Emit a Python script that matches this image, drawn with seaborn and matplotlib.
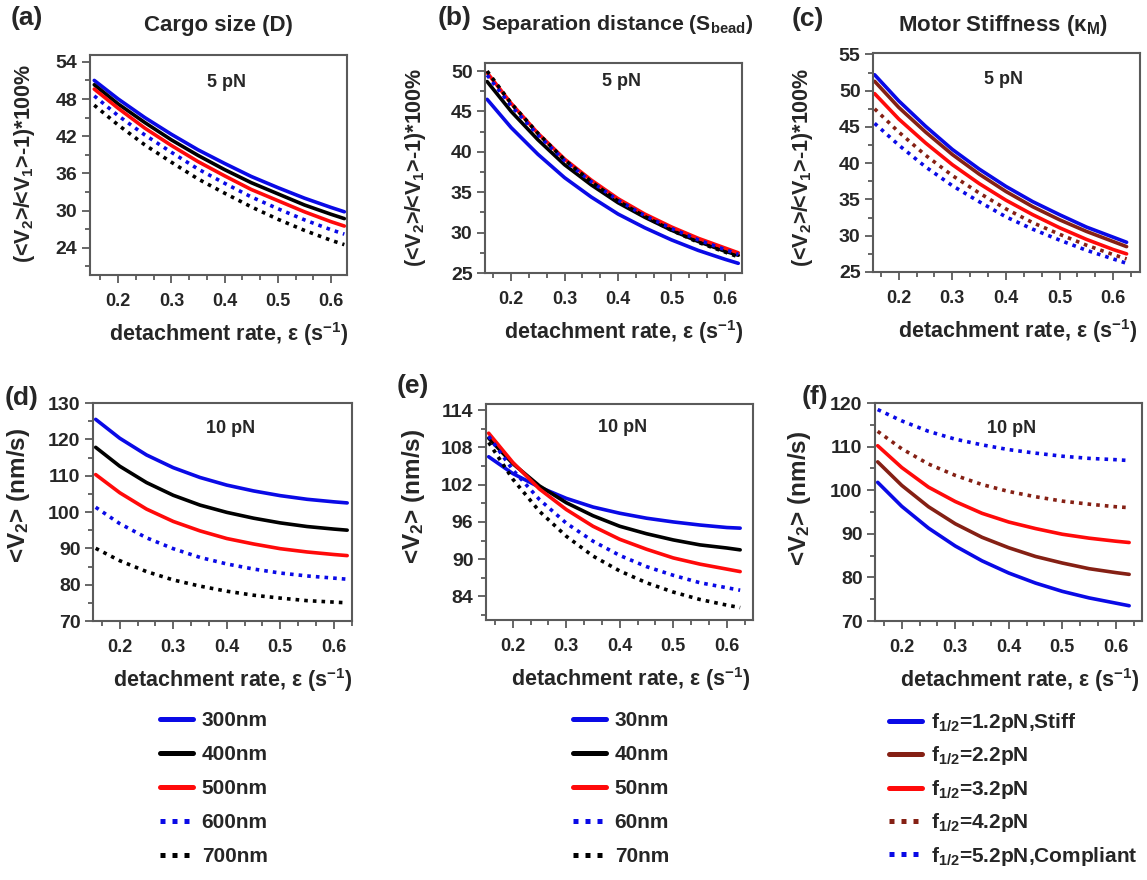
import matplotlib
matplotlib.use('Agg')
import matplotlib.pyplot as plt
from matplotlib.ticker import AutoMinorLocator, MultipleLocator
import seaborn as sns

# detachment rate (s^-1) sampled along each curve
eps = [0.155, 0.2, 0.25, 0.3, 0.35, 0.4, 0.45, 0.5, 0.55, 0.6, 0.625]

# (a) cargo size, 5 pN  -> (<V2>/<V1>-1)*100%
a_300 = [51.0, 48.0, 45.0, 42.3, 39.8, 37.6, 35.5, 33.7, 32.0, 30.5, 29.8]
a_400 = [50.3, 47.2, 44.2, 41.4, 38.9, 36.6, 34.5, 32.7, 30.9, 29.4, 28.7]
a_500 = [49.6, 46.5, 43.3, 40.5, 37.9, 35.6, 33.4, 31.6, 29.8, 28.2, 27.5]
a_600 = [48.5, 45.3, 42.2, 39.4, 36.7, 34.4, 32.2, 30.3, 28.5, 26.9, 26.2]
a_700 = [47.0, 43.8, 40.6, 37.8, 35.1, 32.8, 30.6, 28.6, 26.8, 25.2, 24.5]

# (b) separation distance, 5 pN
b_30 = [46.5, 43.0, 39.7, 36.8, 34.4, 32.3, 30.6, 29.1, 27.8, 26.7, 26.2]
b_40 = [48.7, 45.0, 41.5, 38.4, 35.9, 33.7, 31.9, 30.3, 28.9, 27.7, 27.2]
b_50 = [49.8, 46.0, 42.3, 39.1, 36.5, 34.2, 32.3, 30.7, 29.3, 28.1, 27.5]
b_60 = [49.5, 45.7, 42.1, 38.9, 36.3, 34.0, 32.1, 30.5, 29.1, 27.9, 27.3]
b_70 = [50.0, 46.0, 42.3, 39.0, 36.3, 33.9, 32.0, 30.3, 28.8, 27.6, 27.0]

# (c) motor stiffness, 5 pN
c_12 = [52.2, 48.6, 45.1, 41.9, 39.2, 36.8, 34.7, 32.9, 31.2, 29.8, 29.1]
c_22 = [51.3, 47.7, 44.3, 41.2, 38.5, 36.1, 34.0, 32.2, 30.6, 29.2, 28.5]
c_32 = [49.6, 46.1, 42.8, 39.8, 37.2, 34.9, 32.9, 31.1, 29.5, 28.1, 27.5]
c_42 = [47.5, 44.3, 41.1, 38.3, 35.9, 33.7, 31.8, 30.2, 28.7, 27.4, 26.8]
c_52 = [45.5, 42.5, 39.5, 36.9, 34.7, 32.6, 30.9, 29.4, 28.0, 26.8, 26.2]

# (d) cargo size, 10 pN -> <V2> (nm/s)
d_300 = [125.5, 120.3, 115.7, 112.2, 109.5, 107.4, 105.8, 104.5, 103.5, 102.8, 102.5]
d_400 = [117.8, 112.6, 108.1, 104.6, 101.9, 99.9, 98.3, 97.0, 96.0, 95.3, 95.0]
d_500 = [110.3, 105.3, 100.8, 97.4, 94.8, 92.7, 91.2, 89.9, 89.0, 88.3, 88.0]
d_600 = [101.3, 96.8, 92.9, 89.9, 87.5, 85.7, 84.3, 83.2, 82.4, 81.8, 81.5]
d_700 = [90.0, 86.6, 83.6, 81.3, 79.6, 78.2, 77.1, 76.3, 75.6, 75.2, 75.0]

# (e) separation distance, 10 pN
e_30 = [106.5, 103.8, 101.6, 99.8, 98.4, 97.4, 96.6, 96.0, 95.5, 95.1, 95.0]
e_40 = [109.5, 105.4, 101.8, 99.1, 97.0, 95.3, 94.1, 93.1, 92.3, 91.8, 91.5]
e_50 = [110.3, 105.6, 101.3, 98.0, 95.3, 93.2, 91.6, 90.2, 89.2, 88.4, 88.0]
e_60 = [109.8, 104.4, 99.6, 95.8, 92.9, 90.6, 88.8, 87.4, 86.2, 85.4, 85.0]
e_70 = [108.8, 102.9, 97.7, 93.7, 90.5, 88.1, 86.2, 84.7, 83.5, 82.6, 82.2]

# (f) motor stiffness, 10 pN
f_12 = [101.8, 96.3, 91.3, 87.2, 83.8, 81.0, 78.7, 76.8, 75.3, 74.1, 73.5]
f_22 = [106.5, 101.1, 96.2, 92.3, 89.2, 86.8, 84.8, 83.3, 82.0, 81.1, 80.7]
f_32 = [110.2, 105.2, 100.7, 97.4, 94.7, 92.7, 91.2, 89.9, 89.0, 88.3, 88.0]
f_42 = [113.5, 109.5, 106.0, 103.4, 101.3, 99.7, 98.5, 97.5, 96.8, 96.2, 96.0]
f_52 = [118.5, 115.9, 113.5, 111.7, 110.4, 109.3, 108.5, 107.8, 107.3, 107.0, 106.8]

cargo_labels = ['300nm', '400nm', '500nm', '600nm', '700nm']
sep_labels = ['30nm', '40nm', '50nm', '60nm', '70nm']
stiff_labels = ['f$_{1/2}$=1.2pN,Stiff', 'f$_{1/2}$=2.2pN', 'f$_{1/2}$=3.2pN',
                'f$_{1/2}$=4.2pN', 'f$_{1/2}$=5.2pN,Compliant']

BLUE, BLACK, RED, BROWN = '#0a0ae6', '#000000', '#ff0a0a', '#852014'
DOT = (0, (1, 1.4))
size_styles = [(BLUE, '-'), (BLACK, '-'), (RED, '-'), (BLUE, DOT), (BLACK, DOT)]
stiff_styles = [(BLUE, '-'), (BROWN, '-'), (RED, '-'), (BROWN, DOT), (BLUE, DOT)]

sns.set_style('ticks')
plt.rcParams['font.family'] = ['Liberation Sans', 'DejaVu Sans']
plt.rcParams['font.weight'] = 'bold'
plt.rcParams['axes.labelweight'] = 'bold'
plt.rcParams['mathtext.fontset'] = 'custom'
plt.rcParams['mathtext.rm'] = 'Liberation Sans:bold'
plt.rcParams['mathtext.it'] = 'Liberation Sans:bold'
plt.rcParams['mathtext.bf'] = 'Liberation Sans:bold'
plt.rcParams['mathtext.sf'] = 'Liberation Sans:bold'
plt.rcParams['mathtext.default'] = 'rm'

fig = plt.figure(figsize=(11.47, 8.8), dpi=100)

W, H = 1147, 880


def px_axes(left, top, right, bottom):
    return fig.add_axes([left / W, 1 - bottom / H, (right - left) / W, (bottom - top) / H])


panels = [
    # rect (px), series, labels, styles, xlim, ylim, ystep, force, its pos, row, ylabel pos
    ((90, 55, 347, 275), [a_300, a_400, a_500, a_600, a_700], cargo_labels, size_styles,
     (0.147, 0.630), (19.6, 55.1), 6, '5 pN', (0.53, 0.875), 'top', (-0.205, 0.51)),
    ((485, 63, 742, 273), [b_30, b_40, b_50, b_60, b_70], sep_labels, size_styles,
     (0.151, 0.632), (25, 51), 5, '5 pN', (0.53, 0.91), 'top', (-0.222, 0.505)),
    ((873, 53, 1140, 272), [c_12, c_22, c_32, c_42, c_52], stiff_labels, stiff_styles,
     (0.152, 0.650), (25, 55.2), 5, '5 pN', (0.49, 0.877), 'top', (-0.217, 0.48)),
    ((93, 403, 352, 621), [d_300, d_400, d_500, d_600, d_700], cargo_labels, size_styles,
     (0.150, 0.634), (70, 130), 10, '10 pN', (0.53, 0.885), 'bottom', (-0.236, 0.575)),
    ((486, 404, 753, 620), [e_30, e_40, e_50, e_60, e_70], sep_labels, size_styles,
     (0.150, 0.649), (80.2, 115), 6, '10 pN', (0.51, 0.89), 'bottom', (-0.221, 0.57)),
    ((875, 403, 1142, 621), [f_12, f_22, f_32, f_42, f_52], stiff_labels, stiff_styles,
     (0.150, 0.649), (70, 120), 10, '10 pN', (0.51, 0.885), 'bottom', (-0.232, 0.56)),
]

top_ylabel = '(<V$_2$>/<V$_1$>-1)*100%'
bottom_ylabel = '<V$_2$> (nm/s)'
frame_col = '#5a5a5a'

axes = []
for rect, series, labels, styles, xlim, ylim, ystep, force, fpos, row, ylpos in panels:
    ax = px_axes(*rect)
    for vals, lab, (col, ls) in zip(series, labels, styles):
        sns.lineplot(x=eps, y=vals, ax=ax, color=col, linestyle=ls,
                     linewidth=2.6, label=lab)
    ax.set_xlim(*xlim)
    ax.set_ylim(*ylim)
    ax.xaxis.set_major_locator(MultipleLocator(0.1))
    ax.xaxis.set_minor_locator(AutoMinorLocator(3))
    ax.yaxis.set_major_locator(MultipleLocator(ystep))
    ax.yaxis.set_minor_locator(AutoMinorLocator(2))
    ax.tick_params(which='both', direction='out', color=frame_col, width=1.3,
                   top=False, right=False)
    ax.tick_params(which='major', length=6)
    ax.tick_params(which='minor', length=3.5)
    ax.tick_params(axis='x', labelsize=13, pad=7)
    ax.tick_params(axis='y', labelsize=14, pad=3)
    for lbl in ax.get_xticklabels() + ax.get_yticklabels():
        lbl.set_fontweight('bold')
    for sp in ax.spines.values():
        sp.set_visible(True)
        sp.set_color(frame_col)
        sp.set_linewidth(1.5)
    ax.text(fpos[0], fpos[1], force, transform=ax.transAxes, ha='center',
            va='center', fontsize=13, fontweight='bold')
    ax.set_xlabel('detachment rate, ε (s$^{-1}$)', fontsize=15.5,
                  fontweight='bold', labelpad=7)
    ax.xaxis.label.set_x(0.54)
    if row == 'top':
        ax.set_ylabel(top_ylabel, fontsize=15.5, fontweight='bold')
    else:
        ax.set_ylabel(bottom_ylabel, fontsize=17.5, fontweight='bold')
    ax.yaxis.set_label_coords(*ylpos)
    ax.get_legend().remove()
    axes.append(ax)

# panel letters and column titles
for txt, x, y in [('(a)', 27, 18), ('(b)', 455, 18), ('(c)', 808, 19),
                  ('(d)', 22, 398), ('(e)', 413, 386), ('(f)', 815, 397)]:
    fig.text(x / W, 1 - y / H, txt, ha='center', va='center',
             fontsize=19, fontweight='bold')

for txt, x, fs in [('Cargo size (D)', 218, 16),
                   ('Separation distance (S$_{bead}$)', 617, 15.3),
                   ('Motor Stiffness (κ$_M$)', 1003, 16)]:
    fig.text(x / W, 1 - 25 / H, txt, ha='center', va='center',
             fontsize=fs, fontweight='bold')

# legends below each column
for ax, x, spacing in [(axes[3], 160, 0.72), (axes[4], 573, 0.72), (axes[5], 889, 0.5)]:
    handles, labels = ax.get_legend_handles_labels()
    leg = fig.legend(handles, labels, loc='upper left',
                     bbox_to_anchor=(x / W, 1 - 711 / H), frameon=False,
                     borderaxespad=0, borderpad=0, handlelength=1.6,
                     handletextpad=0.4, labelspacing=spacing,
                     prop={'size': 15, 'weight': 'bold'})
    for line in leg.get_lines():
        line.set_linewidth(3.6)

fig.savefig('out.png', dpi=100)
